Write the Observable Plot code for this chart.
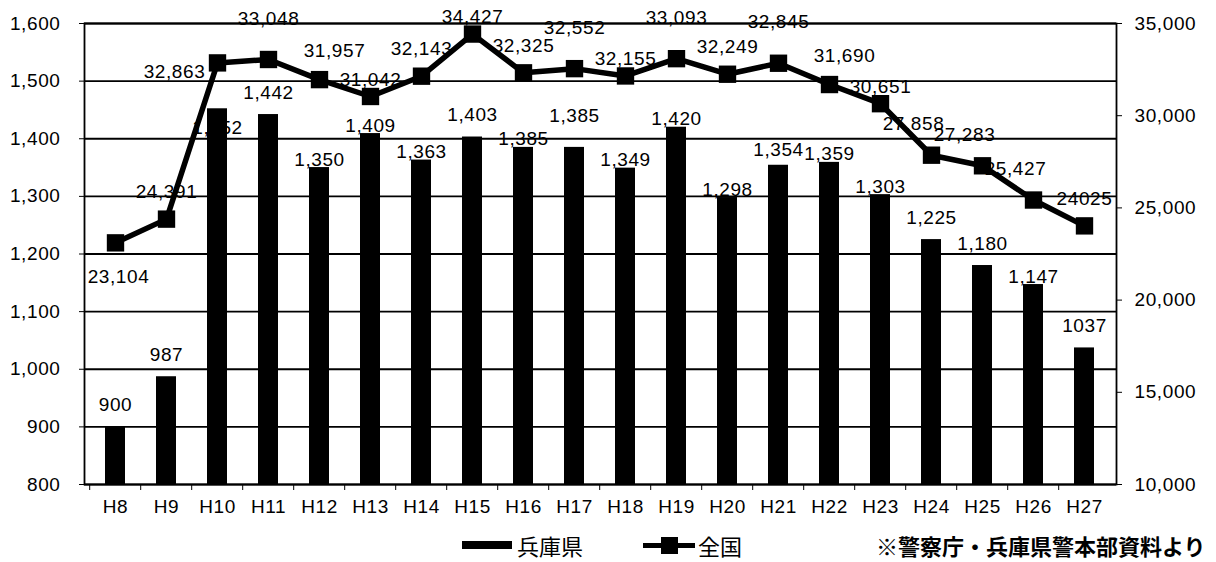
<!DOCTYPE html>
<html><head><meta charset="utf-8">
<script src="https://cdn.jsdelivr.net/npm/d3@7"></script>
<script src="https://cdn.jsdelivr.net/npm/@observablehq/plot@0.6"></script>
<style>
body{margin:0;background:#fff;font-family:"Liberation Sans",Arial,sans-serif;}
#wrap{position:relative;width:1216px;height:562px;}
svg text{letter-spacing:0.6px;}
.leg{position:absolute;top:532px;font-family:"Noto Sans CJK JP",sans-serif;font-size:22px;color:#000;line-height:26px;display:flex;align-items:center;}
</style></head>
<body><div id="wrap"></div>
<script>
const years = ["H8","H9","H10","H11","H12","H13","H14","H15","H16","H17","H18","H19","H20","H21","H22","H23","H24","H25","H26","H27"];
const hyogo = [900,987,1452,1442,1350,1409,1363,1403,1385,1385,1349,1420,1298,1354,1359,1303,1225,1180,1147,1037];
const hyogoLabels = ["900","987","1,452","1,442","1,350","1,409","1,363","1,403","1,385","1,385","1,349","1,420","1,298","1,354","1,359","1,303","1,225","1,180","1,147","1037"];
const zenkoku = [23104,24391,32863,33048,31957,31042,32143,34427,32325,32552,32155,33093,32249,32845,31690,30651,27858,27283,25427,24025];
const zenkokuLabels = ["23,104","24,391","32,863","33,048","31,957","31,042","32,143","34,427","32,325","32,552","32,155","33,093","32,249","32,845","31,690","30,651","27,858","27,283","25,427","24025"];
const leftTicks = [800,900,1000,1100,1200,1300,1400,1500,1600];
const rightTicks = [10000,15000,20000,25000,30000,35000];
const seriesNames = ["兵庫県","全国"];
const source = "※警察庁・兵庫県警本部資料より";
// label placement names (as in the original chart's hand-placed data labels)
const hyogoLabelPlace = ["above","above","inside","above","touch","touch","touch","above","touch","high","touch","touch","touch","mid","touch","touch","above","above","touch","above"];
const zenkokuLabelPlace = ["below","above","left","high","aboveRight","close","above","close","above","high","close","high","above","high","aboveRight","close","aboveLeft","aboveLeft","aboveLeft","above"];

const barOffset = {above:[0,-22], high:[0,-31], mid:[0,-15], touch:[0,-8], inside:[0,19]};
const lineOffset = {below:[3,34], above:[0,-27], high:[0,-41], close:[0,-17], left:[-43,9], aboveRight:[15,-29], aboveLeft:[-18,-31]};

const toLeft = v => 800 + (v - 10000) * 800 / 25000;
const fromLeft = y => 10000 + (y - 800) * 25000 / 800;
const data = years.map((y,i)=>({year:y, hyogo:hyogo[i], hl:hyogoLabels[i], zen:toLeft(zenkoku[i]), zl:zenkokuLabels[i], bp:hyogoLabelPlace[i], lp:zenkokuLabelPlace[i]}));
const fmt = d3.format(",");
const FS = 19;

const barLabelMarks = Object.entries(barOffset).map(([k,[dx,dy]]) =>
  Plot.text(data, {filter:d=>d.bp===k, x:"year", y:"hyogo", text:"hl", dx, dy, fontSize:FS, fill:"#000"}));
const lineLabelMarks = Object.entries(lineOffset).map(([k,[dx,dy]]) =>
  Plot.text(data, {filter:d=>d.lp===k, x:"year", y:"zen", text:"zl", dx, dy, fontSize:FS, fill:"#000"}));

const chart = Plot.plot({
  width:1216, height:525,
  marginLeft:84, marginRight:100, marginTop:23, marginBottom:41,
  style:{fontFamily:"'Liberation Sans',Arial,sans-serif", fontSize:FS+"px", color:"#000", background:"#fff"},
  x:{type:"band", domain:years, paddingInner:0.6, paddingOuter:0.3},
  y:{domain:[800,1600]},
  marks:[
    Plot.gridY(leftTicks, {stroke:"#000", strokeOpacity:1, strokeWidth:1.8}),
    Plot.frame({stroke:"#000", strokeWidth:1.8}),
    Plot.barY(data, {x:"year", y1:800, y2:"hyogo", fill:"#000"}),
    ...barLabelMarks,
    Plot.line(data, {x:"year", y:"zen", stroke:"#000", strokeWidth:5.5}),
    Plot.dot(data, {x:"year", y:"zen", symbol:"square", r:9.8, fill:"#000", stroke:"none"}),
    ...lineLabelMarks,
    Plot.axisY(leftTicks, {anchor:"left", tickFormat:fmt, tickSize:5, tickPadding:19, fontSize:FS, label:null}),
    Plot.axisY(rightTicks.map(toLeft), {anchor:"right", tickFormat:d=>fmt(Math.round(fromLeft(d))), tickSize:5, tickPadding:13, fontSize:FS, label:null}),
    Plot.axisX({tickSize:0, tickPadding:15, fontSize:FS, label:null}),
    Plot.axisX({tickSize:6, text:null, dx:-25.8, label:null})
  ]
});
document.getElementById("wrap").appendChild(chart);

const wrap = document.getElementById("wrap");
const l1 = document.createElement("div"); l1.className="leg"; l1.style.left="462px";
l1.innerHTML = '<span style="display:inline-block;width:50px;height:8px;background:#000;margin-right:5px"></span>'+seriesNames[0];
const l2 = document.createElement("div"); l2.className="leg"; l2.style.left="643px";
l2.innerHTML = '<span style="position:relative;display:inline-block;width:52px;height:5px;background:#000;margin-right:3px"><span style="position:absolute;left:18px;top:-6px;width:17px;height:17px;background:#000"></span></span>'+seriesNames[1];
const l3 = document.createElement("div"); l3.className="leg"; l3.style.left="876px"; l3.style.fontWeight="700";
l3.textContent = source;
wrap.append(l1,l2,l3);
</script></body></html>
